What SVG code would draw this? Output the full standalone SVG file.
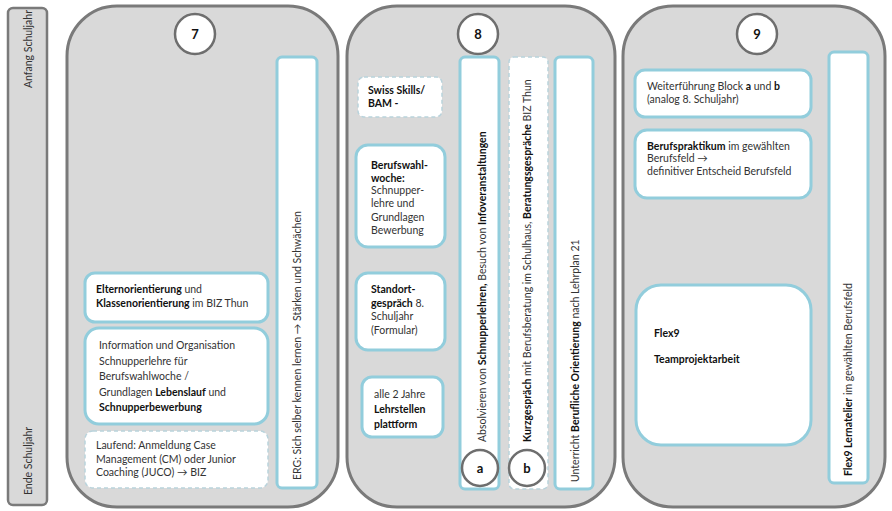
<svg xmlns="http://www.w3.org/2000/svg" width="892" height="511" viewBox="0 0 892 511">
<style>
text{font-family:Lato,"Open Sans","Liberation Sans",sans-serif;font-size:10.5px;fill:#333}
.b{font-weight:bold;fill:#111}
.panel{fill:#d9d9d9;stroke:#7a7a7a;stroke-width:3}
.box{fill:#fff;stroke:#92cddc;stroke-width:3}
.dash{fill:#fff;stroke:#b9d3dc;stroke-width:1.5;stroke-dasharray:4 3}
.circ{fill:#fff;stroke:#6e6e6e;stroke-width:2.5}
.num{font-size:13px;font-weight:bold;fill:#111}
.v{dominant-baseline:central}
</style>
<rect width="892" height="511" fill="#fff"/>
<g id="timeline">
<rect x="8" y="8" width="39" height="497" rx="5" fill="#d9d9d9" stroke="#7a7a7a" stroke-width="2.5"/>
<text class="v" transform="translate(28,49) rotate(-90)" text-anchor="middle">Anfang Schuljahr</text>
<text class="v" transform="translate(28,461) rotate(-90)" text-anchor="middle">Ende Schuljahr</text>
</g>
<g id="col7">
<rect class="panel" x="67" y="6" width="271" height="501" rx="50"/>
<circle class="circ" cx="195" cy="34" r="20"/>
<text class="num" x="195" y="39" text-anchor="middle">7</text>
</g>
<g id="erg">
<rect class="box" x="277" y="57" width="40" height="431" rx="5"/>
<text class="v" transform="translate(297,480) rotate(-90)">ERG: Sich selber kennen lernen → Stärken und Schwächen</text>
</g>
<g id="elternorientierung">
<rect class="box" x="85" y="273" width="183" height="49" rx="10"/>
<text x="96" y="293"><tspan class="b">Elternorientierung</tspan> und</text>
<text x="96" y="307"><tspan class="b">Klassenorientierung</tspan> im BIZ Thun</text>
</g>
<g id="information">
<rect class="box" x="85" y="328" width="183" height="96" rx="14"/>
<text x="99" y="349">Information und Organisation</text>
<text x="99" y="365">Schnupperlehre für</text>
<text x="99" y="380">Berufswahlwoche /</text>
<text x="99" y="396">Grundlagen <tspan class="b">Lebenslauf</tspan> und</text>
<text x="99" y="411" class="b">Schnupperbewerbung</text>
</g>
<g id="laufend">
<rect class="dash" x="85" y="431" width="183" height="57" rx="8"/>
<text x="96" y="449">Laufend: Anmeldung Case</text>
<text x="96" y="463">Management (CM) oder Junior</text>
<text x="96" y="476">Coaching (JUCO) → BIZ</text>
</g>
<g id="col8">
<rect class="panel" x="347" y="6" width="268" height="501" rx="50"/>
<circle class="circ" cx="478" cy="34" r="20"/>
<text class="num" x="478" y="39" text-anchor="middle">8</text>
</g>
<g id="swissskills">
<rect class="dash" x="358" y="77" width="84" height="40" rx="6"/>
<text x="368" y="94" class="b">Swiss Skills/</text>
<text x="368" y="107" class="b">BAM -</text>
</g>
<g id="berufswahlwoche">
<rect class="box" x="356" y="145" width="89" height="102" rx="12"/>
<text x="371" y="169" class="b">Berufswahl-</text>
<text x="371" y="182" class="b">woche:</text>
<text x="371" y="194">Schnupper-</text>
<text x="371" y="207">lehre und</text>
<text x="371" y="221">Grundlagen</text>
<text x="371" y="234">Bewerbung</text>
</g>
<g id="standortgespraech">
<rect class="box" x="356" y="273" width="89" height="77" rx="12"/>
<text x="371" y="293" class="b">Standort-</text>
<text x="371" y="307"><tspan class="b">gespräch</tspan> 8.</text>
<text x="371" y="320">Schuljahr</text>
<text x="371" y="334">(Formular)</text>
</g>
<g id="lehrstellenplattform">
<rect class="box" x="362" y="377" width="81" height="60" rx="10"/>
<text x="374" y="398">alle 2 Jahre</text>
<text x="374" y="413" class="b">Lehrstellen</text>
<text x="374" y="428" class="b">plattform</text>
</g>
<g id="block-a">
<rect class="box" x="460" y="57" width="39" height="432" rx="5"/>
<text class="v" transform="translate(482,442) rotate(-90)">Absolvieren von <tspan class="b">Schnupperlehren,</tspan> Besuch von <tspan class="b">Infoveranstaltungen</tspan></text>
<circle class="circ" cx="480" cy="468" r="18"/>
<text class="num" x="480" y="473" text-anchor="middle">a</text>
</g>
<g id="block-b">
<rect class="dash" x="509" y="57" width="39" height="432" rx="5"/>
<text class="v" transform="translate(527,442) rotate(-90)"><tspan class="b">Kurzgespräch</tspan> mit Berufsberatung im Schulhaus, <tspan class="b">Beratungsgespräche</tspan> BIZ Thun</text>
<circle class="circ" cx="527" cy="468" r="18"/>
<text class="num" x="527" y="473" text-anchor="middle">b</text>
</g>
<g id="unterricht">
<rect class="box" x="555" y="57" width="38" height="432" rx="5"/>
<text class="v" transform="translate(575,482) rotate(-90)">Unterricht <tspan class="b">Berufliche Orientierung</tspan> nach Lehrplan 21</text>
</g>
<g id="col9">
<rect class="panel" x="623" y="6" width="262" height="501" rx="50"/>
<circle class="circ" cx="757" cy="34" r="20"/>
<text class="num" x="757" y="39" text-anchor="middle">9</text>
</g>
<g id="weiterfuehrung">
<rect class="box" x="635" y="70" width="176" height="47" rx="10"/>
<text x="647" y="90">Weiterführung Block <tspan class="b">a</tspan> und <tspan class="b">b</tspan></text>
<text x="647" y="103">(analog 8. Schuljahr)</text>
</g>
<g id="berufspraktikum">
<rect class="box" x="635" y="130" width="176" height="68" rx="12"/>
<text x="647" y="150"><tspan class="b">Berufspraktikum</tspan> im gewählten</text>
<text x="647" y="162">Berufsfeld →</text>
<text x="647" y="175">definitiver Entscheid Berufsfeld</text>
</g>
<g id="flex9">
<rect class="box" x="636" y="285" width="175" height="160" rx="25"/>
<text x="654" y="337" class="b">Flex9</text>
<text x="654" y="363" class="b">Teamprojektarbeit</text>
</g>
<g id="lernatelier">
<rect class="box" x="829" y="52" width="39" height="431" rx="5"/>
<text class="v" transform="translate(848,476) rotate(-90)"><tspan class="b">Flex9 Lernatelier</tspan> im gewählten Berufsfeld</text>
</g>
</svg>
